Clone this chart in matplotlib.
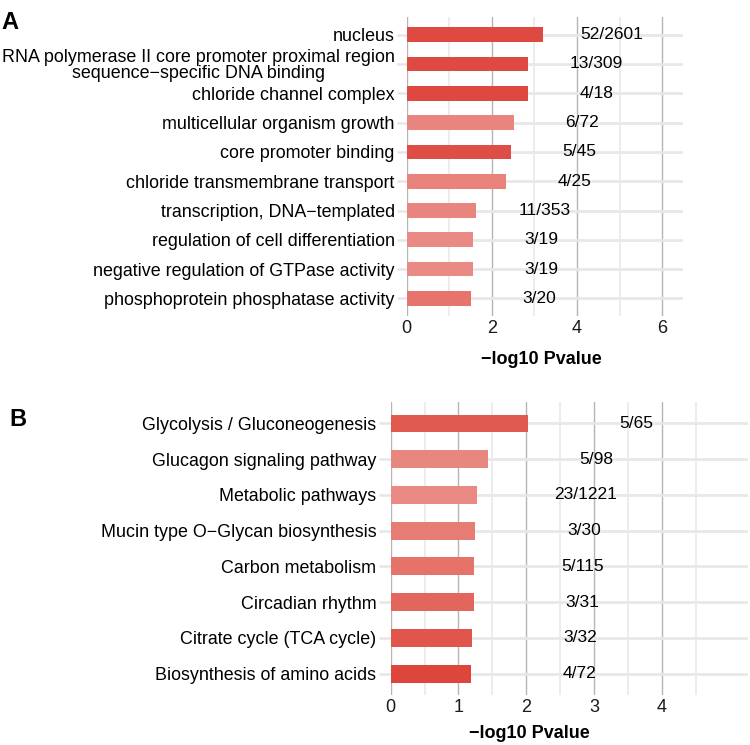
import numpy as np
import matplotlib
matplotlib.use('Agg')
import matplotlib.pyplot as plt

plt.rcParams['font.family'] = ['Liberation Sans', 'DejaVu Sans']

# panel A: GO terms
go_terms = ["nucleus",
            "RNA polymerase II core promoter proximal region\nsequence\u2212specific DNA binding",
            "chloride channel complex",
            "multicellular organism growth",
            "core promoter binding",
            "chloride transmembrane transport",
            "transcription, DNA\u2212templated",
            "regulation of cell differentiation",
            "negative regulation of GTPase activity",
            "phosphoprotein phosphatase activity"]
go_values = [3.21, 2.86, 2.85, 2.52, 2.45, 2.34, 1.64, 1.57, 1.57, 1.51]
go_counts = ["52/2601", "13/309", "4/18", "6/72", "5/45", "4/25",
             "11/353", "3/19", "3/19", "3/20"]
go_colors = ["#de4a42", "#de4a42", "#de4840", "#e8857e", "#df4e46",
             "#e8827b", "#e8857e", "#e98a84", "#e98a84", "#e6746d"]

# panel B: KEGG pathways
kegg_terms = ["Glycolysis / Gluconeogenesis",
              "Glucagon signaling pathway",
              "Metabolic pathways",
              "Mucin type O\u2212Glycan biosynthesis",
              "Carbon metabolism",
              "Circadian rhythm",
              "Citrate cycle (TCA cycle)",
              "Biosynthesis of amino acids"]
kegg_values = [2.03, 1.44, 1.28, 1.25, 1.23, 1.23, 1.20, 1.19]
kegg_counts = ["5/65", "5/98", "23/1221", "3/30", "5/115", "3/31", "3/32", "4/72"]
kegg_colors = ["#e05a50", "#e8877f", "#e88a83", "#e67c74", "#e57369",
               "#e2665d", "#e0564d", "#dc463d"]


def draw_panel(ax, terms, values, counts, colors, xmax, major, minor,
               ticklen, label_x, label_y):
    n = len(terms)
    ypos = np.arange(n)
    ax.barh(ypos, values, height=0.5, color=colors, zorder=3)
    for y, v, c in zip(ypos, values, counts):
        ax.text(v + 1.6, y, c, ha='center', va='center', fontsize=12.5,
                color='black', zorder=4)
    ax.set_ylim(n - 1 + 0.6, -0.6)
    ax.set_xlim(0, xmax)
    ax.set_yticks(ypos)
    ax.set_yticklabels(terms, fontsize=12.9, color='black', linespacing=0.9,
                       multialignment='center')
    ax.set_xticks(major)
    ax.set_xticklabels([str(int(m)) for m in major], fontsize=13, color='#1a1a1a')
    ax.set_xticks(minor, minor=True)
    ax.tick_params(axis='x', which='both', length=0, pad=3)
    ax.tick_params(axis='y', length=ticklen, width=1.8, color='#e6e6e6', pad=1.5)
    ax.grid(axis='x', which='major', color='#b5b5b5', linewidth=1.0, zorder=0)
    ax.grid(axis='x', which='minor', color='#ebebeb', linewidth=1.3, zorder=0)
    ax.grid(axis='y', which='major', color='#e8e8e8', linewidth=2.0, zorder=0)
    ax.set_axisbelow(True)
    for s in ax.spines.values():
        s.set_visible(False)
    ax.set_xlabel("\u2212log10 Pvalue", fontsize=13, fontweight='bold')
    ax.xaxis.set_label_coords(label_x, label_y)


fig = plt.figure(figsize=(7.5, 7.45), dpi=100)

axA = fig.add_axes([0.542, 0.5758, 0.3687, 0.4013])
draw_panel(axA, go_terms, go_values, go_counts, go_colors, 6.49,
           [0, 2, 4, 6], [1, 3, 5], 7, 0.486, -0.118)

axB = fig.add_axes([0.521, 0.0671, 0.476, 0.3933])
draw_panel(axB, kegg_terms, kegg_values, kegg_counts, kegg_colors, 5.27,
           [0, 1, 2, 3, 4], [0.5, 1.5, 2.5, 3.5, 4.5], 9, 0.389, -0.104)

fig.text(0.002, 0.985, "A", fontsize=17, fontweight='bold', va='top', ha='left')
fig.text(0.012, 0.452, "B", fontsize=17, fontweight='bold', va='top', ha='left')

fig.savefig("out.png", dpi=100)
